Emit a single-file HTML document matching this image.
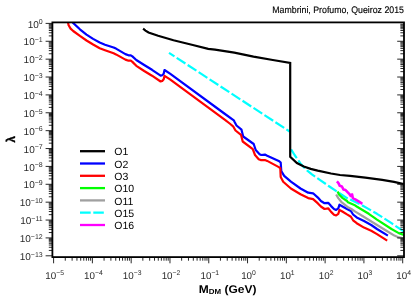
<!DOCTYPE html>
<html><head><meta charset="utf-8"><title>chart</title><style>html,body{margin:0;padding:0;background:#fff}body{width:415px;height:303px;overflow:hidden}</style></head><body>
<svg width="415" height="303" viewBox="0 0 415 303" style="display:block;will-change:transform" text-rendering="geometricPrecision">
<rect width="415" height="303" fill="#fff"/>
<defs><clipPath id="c"><rect x="52.4" y="22.4" width="351.6" height="234.70000000000002"/></clipPath></defs>
<g clip-path="url(#c)" fill="none" stroke-width="2.2" stroke-linejoin="round">
<path d="M169.0,52.8 L289.6,131.5" stroke="#00ffff" stroke-dasharray="10.4 2.7" stroke-dashoffset="3.9"/>
<path d="M290.2,148.0 L291.7,150.4 L294.6,155.0 L300.3,163.1 L303.8,167.2 L307.3,170.6 L311.9,174.3 L319.8,179.8 L329.4,186.5 L339.1,193.0 L347.0,198.1 L362.0,205.2 L377.0,213.8 L391.5,223.2 L404.0,231.7" stroke="#00ffff" stroke-dasharray="10.4 2.7" stroke-dashoffset="11.45"/>
<path d="M143.1,28.7 L145.5,30.6 L148.5,32.5 L158.1,35.8 L173.5,40.2 L192.8,45.0 L208.2,48.9 L215.0,49.7 L234.3,52.7 L253.5,56.6 L272.8,60.0 L290.2,62.9 L290.2,156.8 L296.9,163.1 L303.8,166.6 L310.7,168.9 L317.7,170.6 L331.0,173.5 L340.0,175.0 L350.1,175.8 L365.3,177.7 L382.2,179.9 L394.0,181.9 L404.0,184.2" stroke="#000" stroke-linejoin="miter"/>
<path d="M72.6,22.4 L79.9,29.3 L86.5,34.6 L93.1,38.9 L99.7,42.5 L105.0,44.7 L113.6,47.5 L116.0,48.6 L125.4,54.1 L128.5,55.3 L130.8,55.3 L132.4,56.4 L136.3,60.0 L144.2,65.0 L152.0,69.8 L160.6,75.7 L162.2,75.2 L163.7,73.7 L164.5,70.0 L170.0,73.6 L225.0,114.0 L233.8,120.3 L234.5,121.8 L236.5,125.5 L241.5,129.7 L243.2,136.5 L253.7,144.0 L255.7,150.0 L259.6,154.2 L261.3,155.0 L264.9,154.6 L267.2,155.8 L279.3,161.3 L280.7,162.5 L281.3,171.1 L284.2,175.9 L290.9,181.7 L300.5,188.5 L308.2,192.7 L313.1,193.3 L317.9,197.6 L320.9,201.0 L324.5,203.2 L328.2,202.8 L331.1,206.1 L334.0,209.0 L336.1,210.0 L338.3,208.3 L339.5,204.7 L341.2,205.7 L347.0,209.0 L350.9,211.0 L353.1,214.5 L356.7,217.4 L364.0,221.0 L371.2,225.0 L377.0,229.0 L387.9,235.6" stroke="#0000ff"/>
<path d="M68.0,22.4 L68.6,25.3 L70.6,28.6 L73.2,31.0 L79.9,35.9 L86.5,40.5 L93.1,44.5 L99.7,48.2 L105.0,50.2 L113.6,53.3 L116.0,54.4 L125.4,59.6 L128.5,60.7 L130.8,60.7 L132.4,61.9 L136.3,65.8 L144.2,71.0 L152.0,75.7 L160.6,81.5 L162.2,81.0 L163.7,79.2 L164.5,75.9 L170.0,79.4 L225.0,119.8 L229.7,123.5 L233.1,126.3 L235.5,130.5 L241.0,134.8 L242.7,141.5 L252.8,149.1 L255.0,155.0 L258.7,159.2 L260.7,160.1 L264.9,160.0 L267.2,160.9 L278.4,166.9 L280.3,168.2 L280.7,176.9 L283.2,181.7 L290.9,188.5 L300.5,194.2 L308.2,198.1 L313.1,199.1 L317.9,203.4 L320.9,206.5 L324.5,209.0 L328.2,208.3 L331.1,211.9 L334.0,214.8 L336.1,215.5 L338.3,213.8 L339.5,210.0 L341.9,211.2 L347.0,214.4 L350.9,216.7 L353.1,220.3 L356.7,223.2 L364.0,227.6 L371.2,230.8 L377.0,234.1 L387.2,240.6" stroke="#ff0000"/>
<path d="M336.1,194.5 L338.3,198.1 L341.2,201.8 L345.6,205.4 L348.0,207.3 L351.4,209.0 L355.3,211.6 L362.5,216.0 L377.0,225.0 L387.2,231.2 L394.4,235.6 L398.8,237.4 L404.0,238.3" stroke="#a0a0a0"/>
<path d="M337.6,191.6 L339.0,194.5 L342.7,198.1 L347.0,201.0 L348.0,202.3 L354.3,204.9 L356.7,206.5 L362.5,210.0 L368.8,213.8 L377.0,219.6 L391.5,229.0 L398.8,233.1 L404.0,235.0" stroke="#00ff00"/>
<path d="M336.9,181.4 L338.3,182.9 L339.8,185.8 L341.9,186.5 L343.4,189.4 L345.6,190.1 L349.2,193.8 L350.7,195.9 L352.1,194.5 L352.8,198.1 L355.7,199.6 L359.4,201.8 L362.3,203.9" stroke="#ff00ff" stroke-width="2.6"/>
</g>
<path d="M53.60,257.1 v6.2 M65.28,257.1 v3.6 M72.11,257.1 v3.6 M76.95,257.1 v3.6 M80.71,257.1 v3.6 M83.78,257.1 v3.6 M86.38,257.1 v3.6 M88.63,257.1 v3.6 M90.61,257.1 v3.6 M92.39,257.1 v6.2 M104.07,257.1 v3.6 M110.90,257.1 v3.6 M115.74,257.1 v3.6 M119.50,257.1 v3.6 M122.57,257.1 v3.6 M125.17,257.1 v3.6 M127.42,257.1 v3.6 M129.40,257.1 v3.6 M131.18,257.1 v6.2 M142.85,257.1 v3.6 M149.68,257.1 v3.6 M154.53,257.1 v3.6 M158.29,257.1 v3.6 M161.36,257.1 v3.6 M163.96,257.1 v3.6 M166.21,257.1 v3.6 M168.19,257.1 v3.6 M169.97,257.1 v6.2 M181.64,257.1 v3.6 M188.47,257.1 v3.6 M193.32,257.1 v3.6 M197.08,257.1 v3.6 M200.15,257.1 v3.6 M202.75,257.1 v3.6 M205.00,257.1 v3.6 M206.98,257.1 v3.6 M208.76,257.1 v6.2 M220.43,257.1 v3.6 M227.26,257.1 v3.6 M232.11,257.1 v3.6 M235.87,257.1 v3.6 M238.94,257.1 v3.6 M241.54,257.1 v3.6 M243.79,257.1 v3.6 M245.77,257.1 v3.6 M247.54,257.1 v6.2 M259.22,257.1 v3.6 M266.05,257.1 v3.6 M270.90,257.1 v3.6 M274.66,257.1 v3.6 M277.73,257.1 v3.6 M280.32,257.1 v3.6 M282.57,257.1 v3.6 M284.56,257.1 v3.6 M286.33,257.1 v6.2 M298.01,257.1 v3.6 M304.84,257.1 v3.6 M309.69,257.1 v3.6 M313.45,257.1 v3.6 M316.52,257.1 v3.6 M319.11,257.1 v3.6 M321.36,257.1 v3.6 M323.35,257.1 v3.6 M325.12,257.1 v6.2 M336.80,257.1 v3.6 M343.63,257.1 v3.6 M348.48,257.1 v3.6 M352.23,257.1 v3.6 M355.31,257.1 v3.6 M357.90,257.1 v3.6 M360.15,257.1 v3.6 M362.14,257.1 v3.6 M363.91,257.1 v6.2 M375.59,257.1 v3.6 M382.42,257.1 v3.6 M387.26,257.1 v3.6 M391.02,257.1 v3.6 M394.09,257.1 v3.6 M396.69,257.1 v3.6 M398.94,257.1 v3.6 M400.93,257.1 v3.6 M402.70,257.1 v6.2 M52.4,23.40 h-6.8 M52.4,35.90 h-3.6 M404.0,35.90 h-3.6 M52.4,32.75 h-3.6 M404.0,32.75 h-3.6 M52.4,30.51 h-3.6 M404.0,30.51 h-3.6 M52.4,28.78 h-3.6 M404.0,28.78 h-3.6 M52.4,27.37 h-3.6 M404.0,27.37 h-3.6 M52.4,26.17 h-3.6 M404.0,26.17 h-3.6 M52.4,25.13 h-3.6 M404.0,25.13 h-3.6 M52.4,24.22 h-3.6 M404.0,24.22 h-3.6 M52.4,41.28 h-6.8 M404.0,41.28 h-6.8 M52.4,53.77 h-3.6 M404.0,53.77 h-3.6 M52.4,50.62 h-3.6 M404.0,50.62 h-3.6 M52.4,48.39 h-3.6 M404.0,48.39 h-3.6 M52.4,46.66 h-3.6 M404.0,46.66 h-3.6 M52.4,45.24 h-3.6 M404.0,45.24 h-3.6 M52.4,44.05 h-3.6 M404.0,44.05 h-3.6 M52.4,43.01 h-3.6 M404.0,43.01 h-3.6 M52.4,42.09 h-3.6 M404.0,42.09 h-3.6 M52.4,59.15 h-6.8 M404.0,59.15 h-6.8 M52.4,71.65 h-3.6 M404.0,71.65 h-3.6 M52.4,68.50 h-3.6 M404.0,68.50 h-3.6 M52.4,66.27 h-3.6 M404.0,66.27 h-3.6 M52.4,64.54 h-3.6 M404.0,64.54 h-3.6 M52.4,63.12 h-3.6 M404.0,63.12 h-3.6 M52.4,61.92 h-3.6 M404.0,61.92 h-3.6 M52.4,60.89 h-3.6 M404.0,60.89 h-3.6 M52.4,59.97 h-3.6 M404.0,59.97 h-3.6 M52.4,77.03 h-6.8 M404.0,77.03 h-6.8 M52.4,89.53 h-3.6 M404.0,89.53 h-3.6 M52.4,86.38 h-3.6 M404.0,86.38 h-3.6 M52.4,84.14 h-3.6 M404.0,84.14 h-3.6 M52.4,82.41 h-3.6 M404.0,82.41 h-3.6 M52.4,81.00 h-3.6 M404.0,81.00 h-3.6 M52.4,79.80 h-3.6 M404.0,79.80 h-3.6 M52.4,78.76 h-3.6 M404.0,78.76 h-3.6 M52.4,77.85 h-3.6 M404.0,77.85 h-3.6 M52.4,94.91 h-6.8 M404.0,94.91 h-6.8 M52.4,107.40 h-3.6 M404.0,107.40 h-3.6 M52.4,104.26 h-3.6 M404.0,104.26 h-3.6 M52.4,102.02 h-3.6 M404.0,102.02 h-3.6 M52.4,100.29 h-3.6 M404.0,100.29 h-3.6 M52.4,98.87 h-3.6 M404.0,98.87 h-3.6 M52.4,97.68 h-3.6 M404.0,97.68 h-3.6 M52.4,96.64 h-3.6 M404.0,96.64 h-3.6 M52.4,95.73 h-3.6 M404.0,95.73 h-3.6 M52.4,112.78 h-6.8 M404.0,112.78 h-6.8 M52.4,125.28 h-3.6 M404.0,125.28 h-3.6 M52.4,122.13 h-3.6 M404.0,122.13 h-3.6 M52.4,119.90 h-3.6 M404.0,119.90 h-3.6 M52.4,118.17 h-3.6 M404.0,118.17 h-3.6 M52.4,116.75 h-3.6 M404.0,116.75 h-3.6 M52.4,115.55 h-3.6 M404.0,115.55 h-3.6 M52.4,114.52 h-3.6 M404.0,114.52 h-3.6 M52.4,113.60 h-3.6 M404.0,113.60 h-3.6 M52.4,130.66 h-6.8 M404.0,130.66 h-6.8 M52.4,143.16 h-3.6 M404.0,143.16 h-3.6 M52.4,140.01 h-3.6 M404.0,140.01 h-3.6 M52.4,137.78 h-3.6 M404.0,137.78 h-3.6 M52.4,136.04 h-3.6 M404.0,136.04 h-3.6 M52.4,134.63 h-3.6 M404.0,134.63 h-3.6 M52.4,133.43 h-3.6 M404.0,133.43 h-3.6 M52.4,132.39 h-3.6 M404.0,132.39 h-3.6 M52.4,131.48 h-3.6 M404.0,131.48 h-3.6 M52.4,148.54 h-6.8 M404.0,148.54 h-6.8 M52.4,161.03 h-3.6 M404.0,161.03 h-3.6 M52.4,157.89 h-3.6 M404.0,157.89 h-3.6 M52.4,155.65 h-3.6 M404.0,155.65 h-3.6 M52.4,153.92 h-3.6 M404.0,153.92 h-3.6 M52.4,152.50 h-3.6 M404.0,152.50 h-3.6 M52.4,151.31 h-3.6 M404.0,151.31 h-3.6 M52.4,150.27 h-3.6 M404.0,150.27 h-3.6 M52.4,149.36 h-3.6 M404.0,149.36 h-3.6 M52.4,166.42 h-6.8 M404.0,166.42 h-6.8 M52.4,178.91 h-3.6 M404.0,178.91 h-3.6 M52.4,175.76 h-3.6 M404.0,175.76 h-3.6 M52.4,173.53 h-3.6 M404.0,173.53 h-3.6 M52.4,171.80 h-3.6 M404.0,171.80 h-3.6 M52.4,170.38 h-3.6 M404.0,170.38 h-3.6 M52.4,169.18 h-3.6 M404.0,169.18 h-3.6 M52.4,168.15 h-3.6 M404.0,168.15 h-3.6 M52.4,167.23 h-3.6 M404.0,167.23 h-3.6 M52.4,184.29 h-6.8 M404.0,184.29 h-6.8 M52.4,196.79 h-3.6 M404.0,196.79 h-3.6 M52.4,193.64 h-3.6 M404.0,193.64 h-3.6 M52.4,191.41 h-3.6 M404.0,191.41 h-3.6 M52.4,189.67 h-3.6 M404.0,189.67 h-3.6 M52.4,188.26 h-3.6 M404.0,188.26 h-3.6 M52.4,187.06 h-3.6 M404.0,187.06 h-3.6 M52.4,186.02 h-3.6 M404.0,186.02 h-3.6 M52.4,185.11 h-3.6 M404.0,185.11 h-3.6 M52.4,202.17 h-6.8 M404.0,202.17 h-6.8 M52.4,214.66 h-3.6 M404.0,214.66 h-3.6 M52.4,211.52 h-3.6 M404.0,211.52 h-3.6 M52.4,209.28 h-3.6 M404.0,209.28 h-3.6 M52.4,207.55 h-3.6 M404.0,207.55 h-3.6 M52.4,206.14 h-3.6 M404.0,206.14 h-3.6 M52.4,204.94 h-3.6 M404.0,204.94 h-3.6 M52.4,203.90 h-3.6 M404.0,203.90 h-3.6 M52.4,202.99 h-3.6 M404.0,202.99 h-3.6 M52.4,220.05 h-6.8 M404.0,220.05 h-6.8 M52.4,232.54 h-3.6 M404.0,232.54 h-3.6 M52.4,229.39 h-3.6 M404.0,229.39 h-3.6 M52.4,227.16 h-3.6 M404.0,227.16 h-3.6 M52.4,225.43 h-3.6 M404.0,225.43 h-3.6 M52.4,224.01 h-3.6 M404.0,224.01 h-3.6 M52.4,222.82 h-3.6 M404.0,222.82 h-3.6 M52.4,221.78 h-3.6 M404.0,221.78 h-3.6 M52.4,220.86 h-3.6 M404.0,220.86 h-3.6 M52.4,237.92 h-6.8 M404.0,237.92 h-6.8 M52.4,250.42 h-3.6 M404.0,250.42 h-3.6 M52.4,247.27 h-3.6 M404.0,247.27 h-3.6 M52.4,245.04 h-3.6 M404.0,245.04 h-3.6 M52.4,243.30 h-3.6 M404.0,243.30 h-3.6 M52.4,241.89 h-3.6 M404.0,241.89 h-3.6 M52.4,240.69 h-3.6 M404.0,240.69 h-3.6 M52.4,239.66 h-3.6 M404.0,239.66 h-3.6 M52.4,238.74 h-3.6 M404.0,238.74 h-3.6 M52.4,255.80 h-6.8 M404.0,255.80 h-6.8" stroke="#111" stroke-width="0.9" fill="none"/>
<rect x="52.4" y="22.4" width="351.6" height="234.7" fill="none" stroke="#000" stroke-width="1.8"/>
<g font-family='"Liberation Sans", sans-serif' fill="#2a2a2a">
<text x="54.6" y="278.7" text-anchor="middle" font-size="9.8"><tspan>10</tspan><tspan dy="-3.4" font-size="6.8">−5</tspan></text>
<text x="93.4" y="278.7" text-anchor="middle" font-size="9.8"><tspan>10</tspan><tspan dy="-3.4" font-size="6.8">−4</tspan></text>
<text x="132.2" y="278.7" text-anchor="middle" font-size="9.8"><tspan>10</tspan><tspan dy="-3.4" font-size="6.8">−3</tspan></text>
<text x="171.0" y="278.7" text-anchor="middle" font-size="9.8"><tspan>10</tspan><tspan dy="-3.4" font-size="6.8">−2</tspan></text>
<text x="209.8" y="278.7" text-anchor="middle" font-size="9.8"><tspan>10</tspan><tspan dy="-3.4" font-size="6.8">−1</tspan></text>
<text x="248.5" y="278.7" text-anchor="middle" font-size="9.8"><tspan>10</tspan><tspan dy="-3.4" font-size="6.8">0</tspan></text>
<text x="287.3" y="278.7" text-anchor="middle" font-size="9.8"><tspan>10</tspan><tspan dy="-3.4" font-size="6.8">1</tspan></text>
<text x="326.1" y="278.7" text-anchor="middle" font-size="9.8"><tspan>10</tspan><tspan dy="-3.4" font-size="6.8">2</tspan></text>
<text x="364.9" y="278.7" text-anchor="middle" font-size="9.8"><tspan>10</tspan><tspan dy="-3.4" font-size="6.8">3</tspan></text>
<text x="403.7" y="278.7" text-anchor="middle" font-size="9.8"><tspan>10</tspan><tspan dy="-3.4" font-size="6.8">4</tspan></text>
<text x="42.7" y="27.5" text-anchor="end" font-size="10"><tspan>10</tspan><tspan dy="-3.4" font-size="7">0</tspan></text>
<text x="42.7" y="45.4" text-anchor="end" font-size="10"><tspan>10</tspan><tspan dy="-3.4" font-size="7">−1</tspan></text>
<text x="42.7" y="63.3" text-anchor="end" font-size="10"><tspan>10</tspan><tspan dy="-3.4" font-size="7">−2</tspan></text>
<text x="42.7" y="81.1" text-anchor="end" font-size="10"><tspan>10</tspan><tspan dy="-3.4" font-size="7">−3</tspan></text>
<text x="42.7" y="99.0" text-anchor="end" font-size="10"><tspan>10</tspan><tspan dy="-3.4" font-size="7">−4</tspan></text>
<text x="42.7" y="116.9" text-anchor="end" font-size="10"><tspan>10</tspan><tspan dy="-3.4" font-size="7">−5</tspan></text>
<text x="42.7" y="134.8" text-anchor="end" font-size="10"><tspan>10</tspan><tspan dy="-3.4" font-size="7">−6</tspan></text>
<text x="42.7" y="152.6" text-anchor="end" font-size="10"><tspan>10</tspan><tspan dy="-3.4" font-size="7">−7</tspan></text>
<text x="42.7" y="170.5" text-anchor="end" font-size="10"><tspan>10</tspan><tspan dy="-3.4" font-size="7">−8</tspan></text>
<text x="42.7" y="188.4" text-anchor="end" font-size="10"><tspan>10</tspan><tspan dy="-3.4" font-size="7">−9</tspan></text>
<text x="42.7" y="206.3" text-anchor="end" font-size="10"><tspan>10</tspan><tspan dy="-3.4" font-size="7">−10</tspan></text>
<text x="42.7" y="224.1" text-anchor="end" font-size="10"><tspan>10</tspan><tspan dy="-3.4" font-size="7">−11</tspan></text>
<text x="42.7" y="242.0" text-anchor="end" font-size="10"><tspan>10</tspan><tspan dy="-3.4" font-size="7">−12</tspan></text>
<text x="42.7" y="259.9" text-anchor="end" font-size="10"><tspan>10</tspan><tspan dy="-3.4" font-size="7">−13</tspan></text>
</g>
<text x="272.3" y="12.5" textLength="131.6" lengthAdjust="spacingAndGlyphs" font-family='"Liberation Sans", sans-serif' font-size="9.5" fill="#000" stroke="#000" stroke-width="0.15">Mambrini, Profumo, Queiroz 2015</text>
<text transform="translate(227.6,292.6) scale(1.07,1)" text-anchor="middle" font-family='"Liberation Sans", sans-serif' font-weight="bold" font-size="11.2" fill="#000"><tspan>M</tspan><tspan dy="1.4" font-size="7.4">DM</tspan><tspan dy="-1.4"> (GeV)</tspan></text>
<text transform="translate(14.7,139.2) rotate(-90) scale(1,1.08)" text-anchor="middle" font-family='"Liberation Sans", sans-serif' font-weight="bold" font-size="11.5" fill="#000" stroke="#000" stroke-width="0.3">λ</text>
<path d="M80,151.2 H105" stroke="#000" stroke-width="2.3"/>
<text x="114.3" y="155.4" font-family='"Liberation Sans", sans-serif' font-size="10.5" fill="#000">O1</text>
<path d="M80,163.5 H105" stroke="#0000ff" stroke-width="2.3"/>
<text x="114.3" y="167.7" font-family='"Liberation Sans", sans-serif' font-size="10.5" fill="#000">O2</text>
<path d="M80,175.8 H105" stroke="#ff0000" stroke-width="2.3"/>
<text x="114.3" y="180.0" font-family='"Liberation Sans", sans-serif' font-size="10.5" fill="#000">O3</text>
<path d="M80,188.1 H105" stroke="#00ff00" stroke-width="2.3"/>
<text x="114.3" y="192.3" font-family='"Liberation Sans", sans-serif' font-size="10.5" fill="#000">O10</text>
<path d="M80,200.4 H105" stroke="#a0a0a0" stroke-width="2.3"/>
<text x="114.3" y="204.6" font-family='"Liberation Sans", sans-serif' font-size="10.5" fill="#000">O11</text>
<path d="M80,212.7 H90.7 M93.3,212.7 H103.8" stroke="#00ffff" stroke-width="2.3"/>
<text x="114.3" y="216.9" font-family='"Liberation Sans", sans-serif' font-size="10.5" fill="#000">O15</text>
<path d="M80,225.0 H105" stroke="#ff00ff" stroke-width="2.3"/>
<text x="114.3" y="229.2" font-family='"Liberation Sans", sans-serif' font-size="10.5" fill="#000">O16</text>
</svg>
</body></html>
